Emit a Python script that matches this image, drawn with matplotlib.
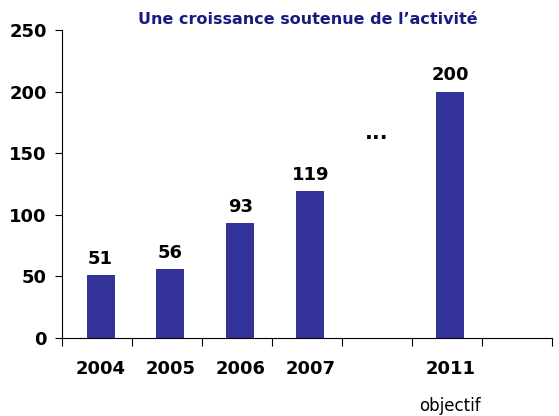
import matplotlib.pyplot as plt
import numpy as np

# data
years = ["2004", "2005", "2006", "2007", "", "2011", ""]
values = [51, 56, 93, 119, None, 200, None]
dots_level = 166

fig = plt.figure(figsize=(5.59, 4.16), dpi=100)
ax = fig.add_axes([0.111, 0.1875, 0.876, 0.7405])

x = np.arange(len(years))
for xi, v in zip(x, values):
    if v is None:
        continue
    ax.bar(xi + 0.05, v, width=0.4, color="#333399")
    ax.text(xi + 0.05, v + 6, str(v), ha="center", va="bottom",
            fontsize=13, fontweight="bold")

ax.text(4, dots_level, "...", ha="center", va="center", fontsize=15, fontweight="bold")

ax.set_xlim(-0.5, len(years) - 0.5)
ax.set_ylim(0, 250)
ax.set_yticks(range(0, 251, 50))
ax.tick_params(axis="y", labelsize=13, length=5, pad=6)
for lab in ax.get_yticklabels():
    lab.set_fontweight("bold")

ax.set_xticks(np.arange(-0.5, len(years), 1))
ax.set_xticklabels([])
ax.tick_params(axis="x", length=6, direction="out")
for xi, lab in zip(x, years):
    ax.text(xi + 0.05, -18, lab, ha="center", va="top", fontsize=13,
            fontweight="bold", transform=ax.transData, clip_on=False)
ax.text(5 + 0.05, -48, "objectif", ha="center", va="top", fontsize=12, clip_on=False)

for s in ["top", "right"]:
    ax.spines[s].set_visible(False)

fig.text(0.551, 0.952, "Une croissance soutenue de l\u2019activité", ha="center", va="center",
         fontsize=11.5, fontweight="bold", color="#1a1a80")

fig.savefig("out.png", dpi=100)
